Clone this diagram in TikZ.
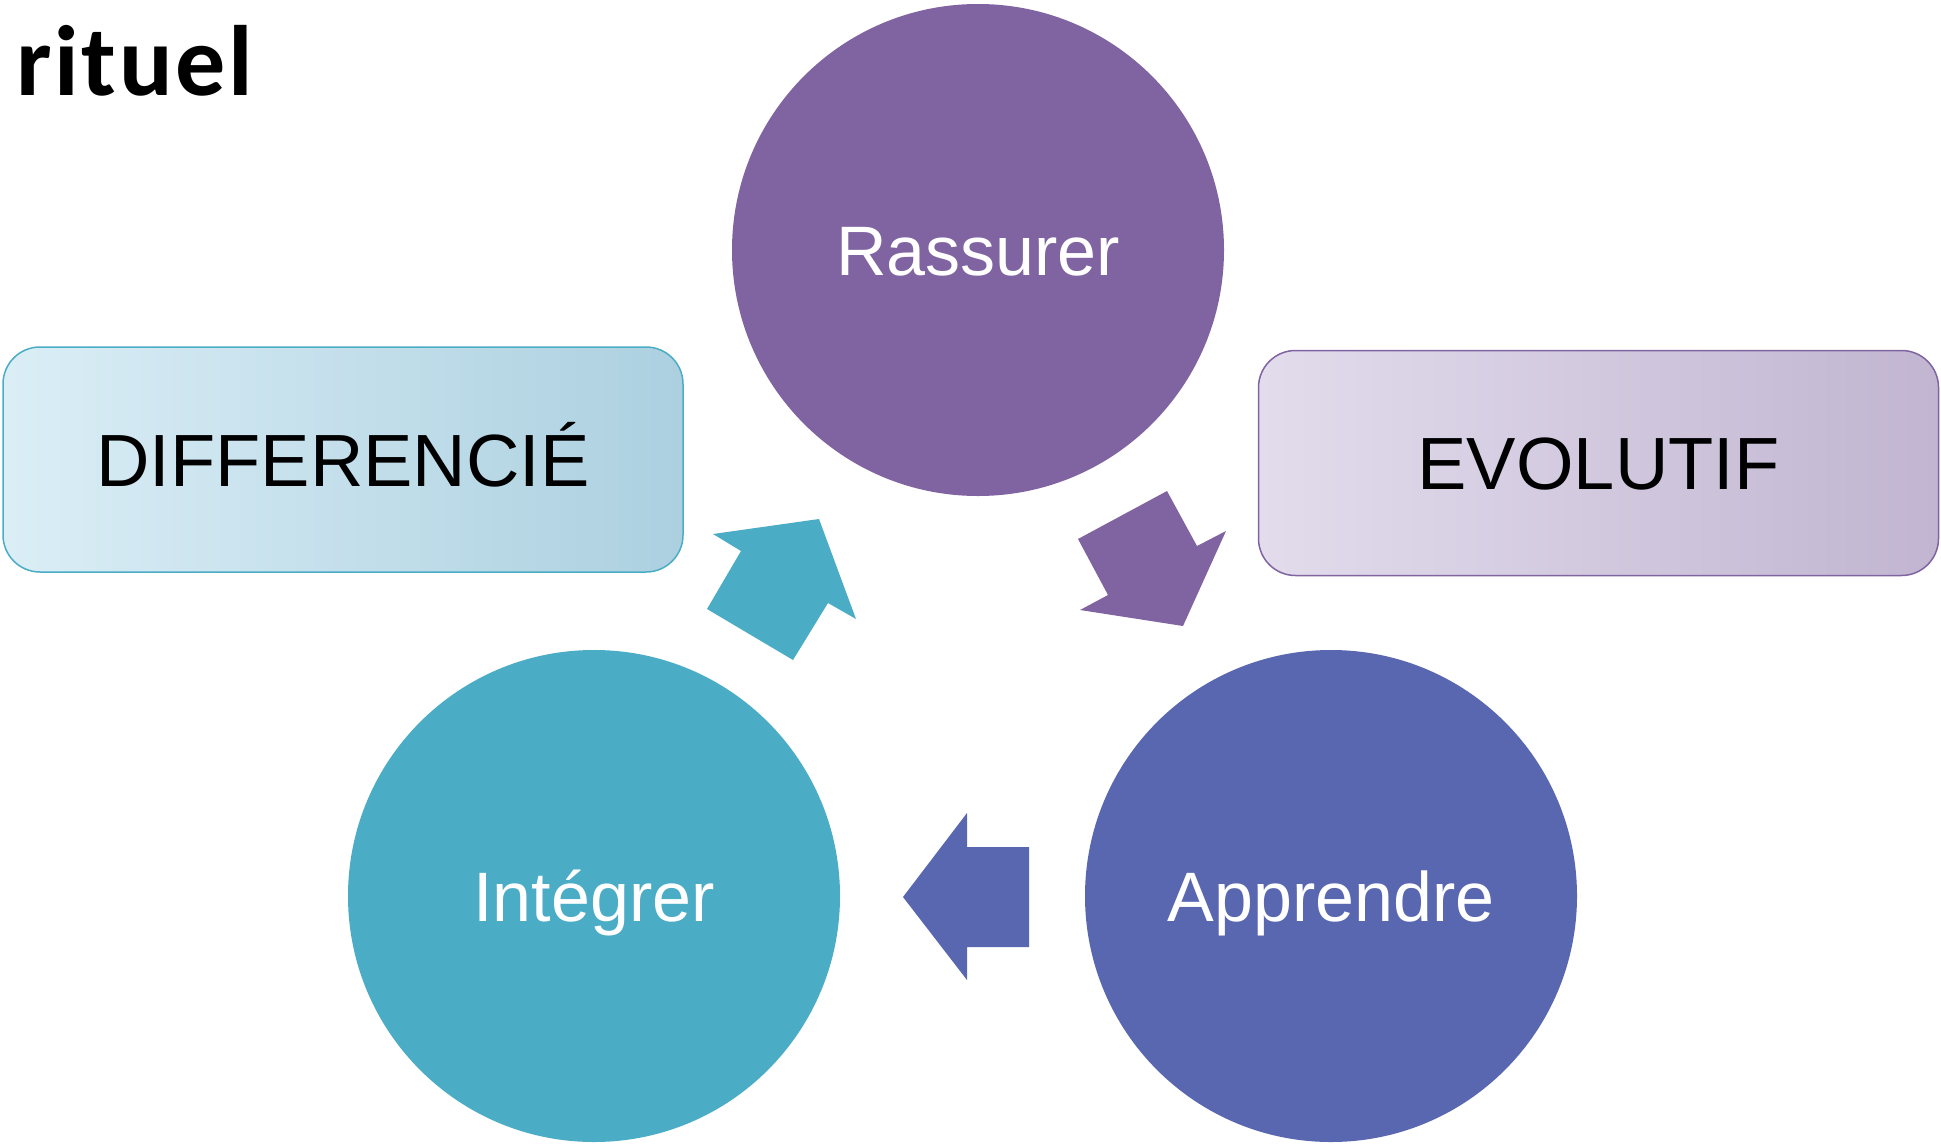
\documentclass[tikz,border=0pt]{standalone}
\usepackage{fontspec}
\setmainfont{Liberation Sans}
\newfontfamily\titlefont[LetterSpace=2.5]{Carlito}
\definecolor{cpurple}{RGB}{128,100,162}
\definecolor{cteal}{RGB}{75,172,198}
\definecolor{cblue}{RGB}{89,103,177}
\definecolor{tealL}{RGB}{219,238,246}
\definecolor{tealD}{RGB}{172,208,224}
\definecolor{purpL}{RGB}{226,220,236}
\definecolor{purpD}{RGB}{193,181,209}
\begin{document}
\begin{tikzpicture}[x=1pt,y=-1pt,
  phase/.style={circle, inner sep=0pt, minimum size=492pt, text=white,
    font=\fontsize{70}{84}\selectfont, text height=50.4pt, text depth=0pt},
  quality/.style={rectangle, rounded corners=37pt, inner sep=0pt, minimum width=680pt,
    minimum height=225pt, line width=1.5pt, font=\fontsize{74}{88}\selectfont,
    text height=53.3pt, text depth=0pt},
  blockarrow/.style={draw=none}]
\useasboundingbox (0,0) rectangle (1941,1146);

\node[anchor=base west, inner sep=0pt, font=\titlefont\bfseries\fontsize{100}{120}\selectfont] (title) at (16.5,95) {rituel};

\node[phase, fill=cpurple] (rassurer) at (978,250) {Rassurer};
\node[phase, fill=cblue] (apprendre) at (1331,896) {Apprendre};
\node[phase, fill=cteal] (integrer) at (594,896) {Intégrer};

\node[quality, draw=cteal, left color=tealL, right color=tealD] (diff) at (343,459.5) {DIFFERENCIÉ};
\node[quality, draw=cpurple, left color=purpL, right color=purpD] (evol) at (1598.5,463) {EVOLUTIF};

\fill[blockarrow, cteal] (707,609) -- (741,551) -- (713,534) -- (819,519) -- (856,619) -- (828,603) -- (793,660) -- cycle;
\fill[blockarrow, cpurple] (1078,539) -- (1167,491) -- (1197,546) -- (1226,531) -- (1183,626) -- (1080,610) -- (1108,595) -- cycle;
\fill[blockarrow, cblue] (903,897) -- (967,813) -- (967,847) -- (1029,847) -- (1029,947) -- (967,947) -- (967,980) -- cycle;
\end{tikzpicture}
\end{document}
